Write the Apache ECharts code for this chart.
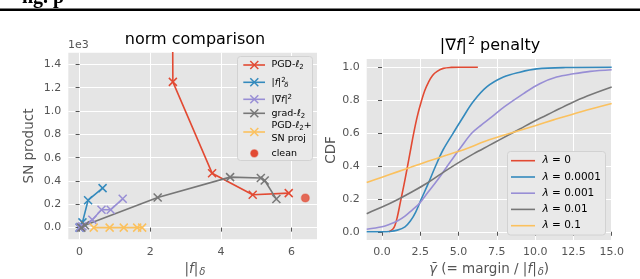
<!DOCTYPE html>
<html><head><meta charset="utf-8">
<script src="https://cdn.jsdelivr.net/npm/echarts@6/dist/echarts.min.js"></script>
<style>html,body{margin:0;padding:0;background:#fff}#c{width:640px;height:279px}</style>
</head><body><div id="c"></div>
<script>
const FONT = 'DejaVu Sans';
const COL = {red:'#E24A33', blue:'#348ABD', purple:'#988ED5', gray:'#777777', yellow:'#FBC15E'};

// ---- left panel: norm comparison (SN product in units of 1e3) ----
const pgdX  = [2.62, 2.64, 3.75, 4.90, 5.92];
const pgdY  = [2.60, 1.25, 0.467, 0.282, 0.296];
const fsqX  = [0.00, 0.02, 0.08, 0.24, 0.65];
const fsqY  = [0.00, 0.005, 0.045, 0.235, 0.339];
const gsqX  = [0.00, 0.03, 0.08, 0.36, 0.62, 0.88, 1.22];
const gsqY  = [0.00, 0.005, 0.012, 0.068, 0.154, 0.154, 0.247];
const gl2X  = [0.05, 0.15, 2.21, 4.26, 5.13, 5.24, 5.57];
const gl2Y  = [0.00, 0.02, 0.259, 0.433, 0.425, 0.404, 0.245];
const snX   = [0.40, 0.85, 1.25, 1.63, 1.77];
const snY   = [0.00, 0.00, 0.00, 0.00, 0.00];
const cleanX = [6.39];
const cleanY = [0.254];
const leftXTicks = [0, 2, 4, 6];
const leftYTicks = [0, 0.2, 0.4, 0.6, 0.8, 1.0, 1.2, 1.4];

// ---- right panel: CDF of normalized margin ----
const l0X = [0.45, 0.7, 0.85, 1.0, 1.2, 1.4, 1.63, 1.85, 2.05, 2.3, 2.56, 2.8, 3.04, 3.3, 3.6, 4.0, 4.5, 5.0, 6.26];
const l0Y = [0, 0.015, 0.04, 0.09, 0.18, 0.27, 0.38, 0.49, 0.59, 0.70, 0.79, 0.86, 0.91, 0.95, 0.975, 0.993, 0.999, 1.0, 1.0];
const l1X = [-1, 0, 0.5, 1.0, 1.5, 1.85, 2.2, 2.55, 3.05, 3.5, 4.0, 4.65, 5.25, 5.95, 6.84, 7.93, 9.0, 10.1, 12.0, 15.0];
const l1Y = [0, 0, 0.002, 0.01, 0.03, 0.065, 0.12, 0.195, 0.3, 0.4, 0.5, 0.6, 0.69, 0.79, 0.88, 0.94, 0.97, 0.99, 0.998, 1.0];
const l2X = [-1, 0, 0.5, 1, 1.5, 2, 2.39, 3, 3.5, 3.9, 4.5, 5.2, 5.87, 6.5, 7.06, 8, 9.24, 10.3, 11.4, 12.5, 13.6, 15];
const l2Y = [0.015, 0.03, 0.045, 0.065, 0.095, 0.135, 0.167, 0.24, 0.3, 0.35, 0.43, 0.52, 0.6, 0.65, 0.69, 0.76, 0.84, 0.9, 0.94, 0.96, 0.975, 0.985];
const l3X = [-1, 0, 1, 2, 2.93, 3.9, 5, 6, 7, 7.7, 9, 10, 11.2, 12.3, 13.4, 15];
const l3Y = [0.11, 0.15, 0.195, 0.245, 0.295, 0.355, 0.42, 0.475, 0.525, 0.56, 0.625, 0.675, 0.73, 0.78, 0.825, 0.88];
const l4X = [-1, 0, 1, 2, 3, 4.24, 5.5, 6.74, 8.48, 10, 11.2, 13, 15];
const l4Y = [0.30, 0.332, 0.364, 0.396, 0.428, 0.466, 0.505, 0.55, 0.602, 0.645, 0.68, 0.73, 0.78];
const rightXTicks = [0, 2.5, 5, 7.5, 10, 12.5, 15];
const rightYTicks = [0, 0.2, 0.4, 0.6, 0.8, 1.0];
const lambdaLabels = ['0', '0.0001', '0.001', '0.01', '0.1'];

const zip = (xs, ys) => xs.map((x, i) => [x, ys[i]]);
const XSYM = 'path://M0,0L10,10M10,0L0,10';

function axisCommon(ticks, fmt) {
  return {
    type: 'value',
    axisLine: {show: false},
    axisTick: {show: true, length: 4, lineStyle: {color: '#555', width: 1}, customValues: ticks},
    axisLabel: {customValues: ticks, color: '#555', fontSize: 11, fontFamily: FONT, formatter: fmt, margin: 7},
    splitLine: {show: true, lineStyle: {color: '#fff', width: 1}}
  };
}

function lineX(name, data, color) {
  return {
    name, type: 'line', xAxisIndex: 0, yAxisIndex: 0, data,
    symbol: XSYM, symbolSize: 8, showSymbol: true,
    lineStyle: {color, width: 1.6},
    itemStyle: {color, borderColor: color, borderWidth: 1.5},
    animation: false, silent: true
  };
}
function lineC(name, data, color) {
  return {
    name, type: 'line', xAxisIndex: 1, yAxisIndex: 1, data,
    showSymbol: false, smooth: 0.35,
    lineStyle: {color, width: 1.6}, itemStyle: {color},
    animation: false, silent: true
  };
}

function ts(size, extra) { return Object.assign({fontSize: size, fontFamily: FONT, fill: '#000'}, extra || {}); }

const graphics = [];
// top of page fragment (cropped heading above the figure)
graphics.push({type: 'text', x: 22, y: 7.5, style: {text: 'ng. p', font: 'bold 20px "Liberation Serif"', fill: '#000', textVerticalAlign: 'bottom'}, z: 100});
graphics.push({type: 'rect', shape: {x: 0, y: 8.5, width: 640, height: 2.5}, style: {fill: '#000'}, z: 100});

// titles
graphics.push({type: 'text', x: 195, y: 40, style: Object.assign(ts(16), {text: 'norm comparison', textAlign: 'center', textVerticalAlign: 'middle'}), z: 100});
graphics.push({type: 'text', x: 490, y: 46, style: Object.assign(ts(16), {
  text: '|∇{i|f}|{sup|2} penalty', textAlign: 'center', textVerticalAlign: 'middle',
  rich: {i: ts(16, {fontStyle: 'italic'}), sup: ts(11, {padding: [0, 0, 9, 1]})}
}), z: 100});

// axis labels
graphics.push({type: 'text', x: 68, y: 45, style: Object.assign(ts(11, {fill: '#555'}), {text: '1e3', textAlign: 'left', textVerticalAlign: 'middle'}), z: 100});
graphics.push({type: 'text', x: 29, y: 146, rotation: Math.PI / 2, style: Object.assign(ts(13.5, {fill: '#555'}), {text: 'SN product', textAlign: 'center', textVerticalAlign: 'middle'}), z: 100});
graphics.push({type: 'text', x: 195, y: 269, style: Object.assign(ts(13.5, {fill: '#555'}), {
  text: '|{i|f}|{sub|δ}', textAlign: 'center', textVerticalAlign: 'middle',
  rich: {i: ts(13.5, {fontStyle: 'italic', fill: '#555'}), sub: ts(10, {fontStyle: 'italic', fill: '#555', padding: [7, 0, 0, 1]})}
}), z: 100});
graphics.push({type: 'text', x: 331, y: 150, rotation: Math.PI / 2, style: Object.assign(ts(13.5, {fill: '#555'}), {text: 'CDF', textAlign: 'center', textVerticalAlign: 'middle'}), z: 100});
graphics.push({type: 'text', x: 489, y: 269, style: Object.assign(ts(13.5, {fill: '#555'}), {
  text: '{i|γ̄} (= margin / |{i|f}|{sub|δ})', textAlign: 'center', textVerticalAlign: 'middle',
  rich: {i: ts(13.5, {fontStyle: 'italic', fill: '#555'}), sub: ts(10, {fontStyle: 'italic', fill: '#555', padding: [7, 0, 0, 1]})}
}), z: 100});

// left legend
graphics.push({type: 'rect', shape: {x: 237.5, y: 56.5, width: 75, height: 104, r: 3}, style: {fill: '#E9E9E9', stroke: '#D2D2D2', lineWidth: 1}, z: 100});
const leftLeg = [
  {c: COL.red, y: 65, t: 'PGD-{i|ℓ}{sub|2}'},
  {c: COL.blue, y: 82.3, t: '|{i|f}|{ss|2}'},
  {c: COL.purple, y: 99.3, t: '|∇{i|f}|{sup|2}'},
  {c: COL.gray, y: 113.3, t: 'grad-{i|ℓ}{sub|2}'},
  {c: COL.yellow, y: 132, t: 'PGD-{i|ℓ}{sub|2}+\nSN proj'}
];
const legRich = {
  i: ts(9.5, {fontStyle: 'italic'}),
  sub: ts(7, {padding: [5, 0, 0, 0]}),
  sup: ts(7, {padding: [0, 0, 5, 0]}),
  ss: ts(7, {padding: [0, 0, 5, 0]})
};
leftLeg.forEach(e => {
  graphics.push({type: 'line', shape: {x1: 243.3, y1: e.y, x2: 265, y2: e.y}, style: {stroke: e.c, lineWidth: 1.6}, z: 101});
  graphics.push({type: 'line', shape: {x1: 250.3, y1: e.y - 4, x2: 258.3, y2: e.y + 4}, style: {stroke: e.c, lineWidth: 1.5}, z: 101});
  graphics.push({type: 'line', shape: {x1: 258.3, y1: e.y - 4, x2: 250.3, y2: e.y + 4}, style: {stroke: e.c, lineWidth: 1.5}, z: 101});
  graphics.push({type: 'text', x: 271.5, y: e.y, style: Object.assign(ts(9.5), {text: e.t, textAlign: 'left', textVerticalAlign: 'middle', lineHeight: 13, rich: legRich}), z: 101});
});
// subscript delta for |f|^2_delta
graphics.push({type: 'text', x: 284.3, y: 85.5, style: Object.assign(ts(7, {fontStyle: 'italic'}), {text: 'δ', textAlign: 'left', textVerticalAlign: 'middle'}), z: 101});
graphics.push({type: 'circle', shape: {cx: 254.3, cy: 153.3, r: 3.6}, style: {fill: COL.red, stroke: 'rgba(226,74,51,0.45)', lineWidth: 1.5}, z: 101});
graphics.push({type: 'text', x: 271.5, y: 153.3, style: Object.assign(ts(9.5), {text: 'clean', textAlign: 'left', textVerticalAlign: 'middle'}), z: 101});

// right legend
graphics.push({type: 'rect', shape: {x: 507.5, y: 151.5, width: 98, height: 83.5, r: 3}, style: {fill: '#E9E9E9', stroke: '#D2D2D2', lineWidth: 1}, z: 100});
const rColors = [COL.red, COL.blue, COL.purple, COL.gray, COL.yellow];
const rRows = [160.7, 177, 193.2, 209.4, 225.7];
lambdaLabels.forEach((lab, i) => {
  graphics.push({type: 'line', shape: {x1: 511, y1: rRows[i], x2: 535, y2: rRows[i]}, style: {stroke: rColors[i], lineWidth: 1.6}, z: 101});
  graphics.push({type: 'text', x: 542.5, y: rRows[i], style: Object.assign(ts(10.5), {
    text: '{i|λ} = ' + lab, textAlign: 'left', textVerticalAlign: 'middle',
    rich: {i: ts(10.5, {fontStyle: 'italic'})}
  }), z: 101});
});

const option = {
  animation: false,
  backgroundColor: '#fff',
  grid: [
    {left: 68.3, top: 52.7, width: 248.7, height: 186.6, show: true, backgroundColor: '#E5E5E5', borderWidth: 0},
    {left: 366.7, top: 59, width: 245, height: 181, show: true, backgroundColor: '#E5E5E5', borderWidth: 0}
  ],
  xAxis: [
    Object.assign(axisCommon(leftXTicks, v => String(Math.round(v))), {gridIndex: 0, min: -0.32, max: 6.72}),
    Object.assign(axisCommon(rightXTicks, v => v.toFixed(1)), {gridIndex: 1, min: -1, max: 15})
  ],
  yAxis: [
    Object.assign(axisCommon(leftYTicks, v => v.toFixed(1)), {gridIndex: 0, min: -0.1, max: 1.5}),
    Object.assign(axisCommon(rightYTicks, v => v.toFixed(1)), {gridIndex: 1, min: -0.05, max: 1.05})
  ],
  series: [
    lineX('PGD-l2', zip(pgdX, pgdY), COL.red),
    lineX('|f|^2', zip(fsqX, fsqY), COL.blue),
    lineX('|grad f|^2', zip(gsqX, gsqY), COL.purple),
    lineX('grad-l2', zip(gl2X, gl2Y), COL.gray),
    lineX('PGD-l2+SN proj', zip(snX, snY), COL.yellow),
    {name: 'clean', type: 'scatter', xAxisIndex: 0, yAxisIndex: 0, data: zip(cleanX, cleanY),
     symbol: 'circle', symbolSize: 8, itemStyle: {color: COL.red, borderColor: 'rgba(226,74,51,0.45)', borderWidth: 1.5}, silent: true},
    lineC('l0', zip(l0X, l0Y), COL.red),
    lineC('l1', zip(l1X, l1Y), COL.blue),
    lineC('l2', zip(l2X, l2Y), COL.purple),
    lineC('l3', zip(l3X, l3Y), COL.gray),
    lineC('l4', zip(l4X, l4Y), COL.yellow)
  ],
  graphic: graphics
};
const chart = echarts.init(document.getElementById('c'));
chart.setOption(option);
</script></body></html>
